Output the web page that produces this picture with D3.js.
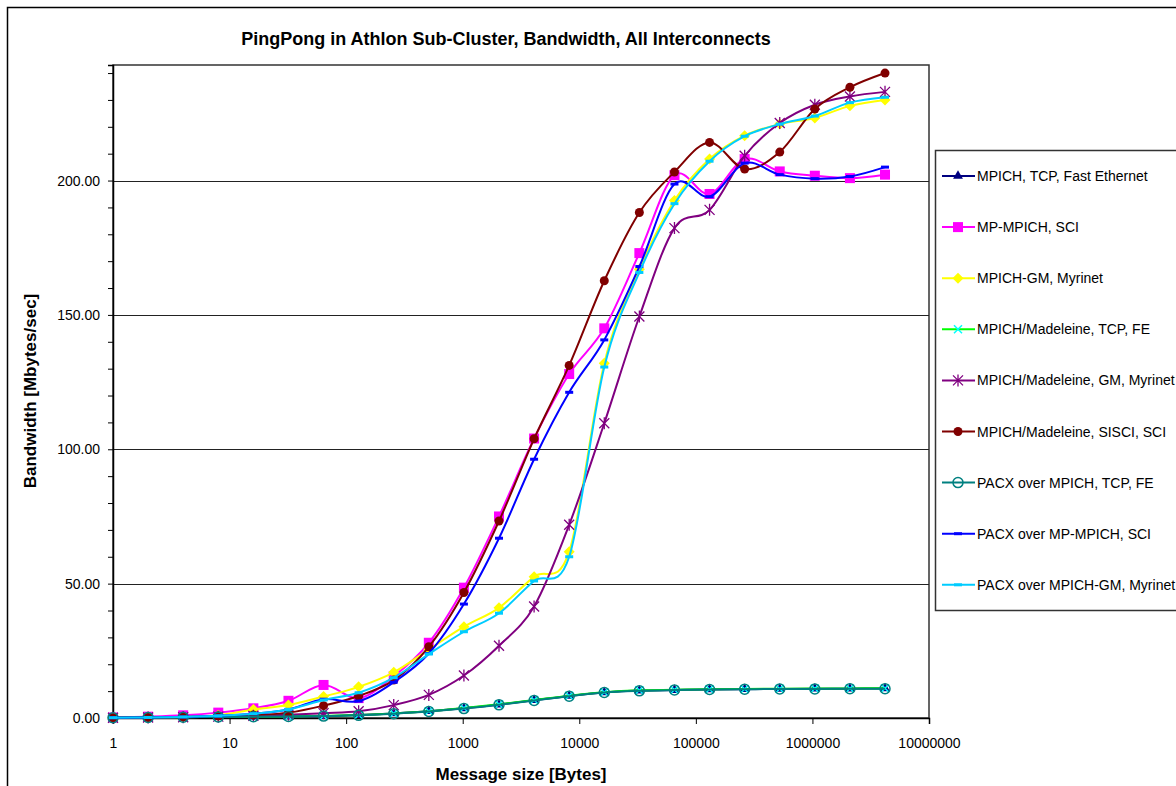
<!DOCTYPE html>
<html>
<head>
<meta charset="utf-8">
<script src="https://cdn.jsdelivr.net/npm/d3@7"></script>
<style>
  body { margin: 0; background: #fff; }
  svg { display: block; font-family: "Liberation Sans", Arial, sans-serif; }
</style>
</head>
<body>
<svg width="1176" height="786"></svg>
<script>
// message sizes, 2^0 .. 2^22 bytes
var sizes = [1, 2, 4, 8, 16, 32, 64, 128, 256, 512, 1024, 2048, 4096, 8192, 16384,
             32768, 65536, 131072, 262144, 524288, 1048576, 2097152, 4194304];

// bandwidth in Mbytes/sec, one array per interconnect
var mpichTcpFe = [0.1, 0.2, 0.3, 0.4, 0.5, 0.6, 0.7, 1.1, 1.7, 2.5, 3.6, 5.0, 6.6, 8.2, 9.5, 10.2, 10.4, 10.6, 10.7, 10.8, 10.9, 10.9, 11.0];
var mpMpichSci = [0.2, 0.5, 1.0, 2.0, 3.6, 6.4, 12.3, 7.4, 15.5, 28.0, 48.5, 75.0, 104.0, 128.0, 145.0, 173.0, 202.0, 195.0, 208.0, 203.4, 201.8, 200.9, 202.2];
var mpichGm = [0.1, 0.2, 0.4, 1.0, 3.2, 4.8, 8.0, 11.6, 17.0, 25.5, 34.0, 41.0, 52.6, 61.9, 132.0, 167.0, 192.6, 208.0, 216.7, 221.0, 223.3, 227.8, 230.0];
var madTcpFe = [0.1, 0.2, 0.3, 0.4, 0.5, 0.6, 0.8, 1.1, 1.7, 2.5, 3.7, 5.1, 6.7, 8.3, 9.6, 10.3, 10.5, 10.7, 10.8, 10.9, 11.0, 11.0, 11.1];
var madGm = [0.1, 0.2, 0.3, 0.5, 0.8, 1.2, 1.8, 2.5, 4.8, 8.6, 15.8, 26.9, 41.5, 71.9, 109.7, 149.4, 182.3, 189.1, 209.2, 221.4, 228.2, 231.3, 233.0];
var madSisci = [0.1, 0.2, 0.4, 0.7, 1.1, 2.0, 4.6, 8.2, 14.1, 26.5, 46.7, 73.3, 103.9, 131.2, 162.7, 188.1, 203.2, 214.2, 204.3, 210.6, 226.6, 234.7, 240.0];
var pacxTcpFe = [0.1, 0.2, 0.3, 0.4, 0.5, 0.6, 0.7, 1.0, 1.6, 2.4, 3.5, 4.9, 6.5, 8.1, 9.5, 10.1, 10.4, 10.6, 10.7, 10.8, 10.8, 10.9, 10.9];
var pacxMpSci = [0.1, 0.2, 0.4, 0.8, 1.6, 3.2, 7.0, 6.3, 13.3, 24.0, 42.4, 66.9, 96.3, 121.2, 140.7, 168.0, 198.7, 194.0, 206.5, 202.2, 200.7, 201.5, 205.0];
var pacxGm = [0.1, 0.2, 0.4, 0.8, 1.6, 3.2, 6.7, 9.4, 15.0, 23.8, 32.1, 39.0, 51.0, 60.0, 130.6, 165.8, 191.4, 207.2, 216.5, 221.0, 224.0, 229.0, 231.0];

var seriesNames = ["MPICH, TCP, Fast Ethernet", "MP-MPICH, SCI", "MPICH-GM, Myrinet",
                   "MPICH/Madeleine, TCP, FE", "MPICH/Madeleine, GM, Myrinet",
                   "MPICH/Madeleine, SISCI, SCI", "PACX over MPICH, TCP, FE",
                   "PACX over MP-MPICH, SCI", "PACX over MPICH-GM, Myrinet"];
var seriesValues = [mpichTcpFe, mpMpichSci, mpichGm, madTcpFe, madGm, madSisci, pacxTcpFe, pacxMpSci, pacxGm];

var xTicks = [1, 10, 100, 1000, 10000, 100000, 1000000, 10000000];
var yTicks = [0, 50, 100, 150, 200];

// styles (line colour, marker kind, marker colours)
var styles = [
    {line: "#000080", marker: "triangle", fill: "#000080", stroke: "#000080"},
    {line: "#ff00ff", marker: "square", fill: "#ff00ff", stroke: "#ff00ff"},
    {line: "#ffff00", marker: "diamond", fill: "#ffff00", stroke: "#ffff00"},
    {line: "#00ff00", marker: "x", fill: "none", stroke: "#00ffff"},
    {line: "#800080", marker: "star", fill: "none", stroke: "#800080"},
    {line: "#800000", marker: "circle", fill: "#800000", stroke: "#800000"},
    {line: "#008080", marker: "ocircle", fill: "none", stroke: "#008080"},
    {line: "#0000ff", marker: "dash", fill: "#0000ff", stroke: "none"},
    {line: "#00ccff", marker: "dash", fill: "#00ccff", stroke: "none"}
];

var svg = d3.select("svg");

var plot = {left: 113, top: 65, right: 929, bottom: 718};

var x = d3.scaleLog().domain([1, 1e7]).range([plot.left, plot.right]);
var y = d3.scaleLinear().domain([0, 243]).range([plot.bottom, plot.top]);

// outer chart frame (runs off the picture at right and bottom)
svg.append("rect")
    .attr("x", 7.5).attr("y", 7.5).attr("width", 1200).attr("height", 800)
    .attr("fill", "#fff").attr("stroke", "#000").attr("stroke-width", 1.5);

// title
svg.append("text")
    .attr("x", 506).attr("y", 45)
    .attr("text-anchor", "middle")
    .attr("font-size", 18).attr("font-weight", "bold")
    .text("PingPong in Athlon Sub-Cluster, Bandwidth, All Interconnects");

// plot frame
svg.append("rect")
    .attr("x", plot.left).attr("y", plot.top)
    .attr("width", plot.right - plot.left).attr("height", plot.bottom - plot.top)
    .attr("fill", "#fff").attr("stroke", "#333").attr("stroke-width", 1.5);

// gridlines
svg.append("g")
    .selectAll("line")
    .data(yTicks.filter(function(d) { return d > 0; }))
    .enter().append("line")
    .attr("x1", plot.left).attr("x2", plot.right)
    .attr("y1", function(d) { return Math.round(y(d)) + 0.5; })
    .attr("y2", function(d) { return Math.round(y(d)) + 0.5; })
    .attr("stroke", "#222").attr("stroke-width", 1);

// y axis: major labels every 50, minor ticks every 10
var yAxis = d3.axisLeft(y)
    .tickValues(d3.range(0, 241, 10))
    .tickSize(5)
    .tickFormat(function(d) { return d % 50 === 0 ? d3.format(".2f")(d) : ""; });
svg.append("g")
    .attr("transform", "translate(" + plot.left + ",0)")
    .call(yAxis)
    .call(function(g) {
        g.select(".domain").attr("stroke", "#000").attr("stroke-width", 1.5);
        g.selectAll(".tick line").attr("stroke", "#000");
        g.selectAll(".tick text").attr("font-size", 14).attr("x", -13)
            .attr("font-family", "Liberation Sans, Arial, sans-serif").attr("fill", "#000");
    });

// x axis
var xAxis = d3.axisBottom(x)
    .tickValues(xTicks)
    .tickSize(6)
    .tickFormat(d3.format("d"));
svg.append("g")
    .attr("transform", "translate(0," + plot.bottom + ")")
    .call(xAxis)
    .call(function(g) {
        g.select(".domain").attr("stroke", "#000").attr("stroke-width", 1.5);
        g.selectAll(".tick line").attr("stroke", "#000");
        g.selectAll(".tick text").attr("font-size", 14).attr("y", 20)
            .attr("font-family", "Liberation Sans, Arial, sans-serif").attr("fill", "#000");
    });

// axis titles
svg.append("text")
    .attr("x", 521).attr("y", 780)
    .attr("text-anchor", "middle")
    .attr("font-size", 17).attr("font-weight", "bold")
    .text("Message size [Bytes]");
svg.append("text")
    .attr("transform", "translate(36,391) rotate(-90)")
    .attr("text-anchor", "middle")
    .attr("font-size", 17).attr("font-weight", "bold")
    .text("Bandwidth [Mbytes/sec]");

// marker drawing
function drawMarker(g, st) {
    if (st.marker == "triangle") {
        g.append("path").attr("d", d3.symbol(d3.symbolTriangle, 42)())
            .attr("fill", st.fill);
    } else if (st.marker == "square") {
        g.append("rect").attr("x", -5).attr("y", -5).attr("width", 10).attr("height", 10)
            .attr("fill", st.fill);
    } else if (st.marker == "diamond") {
        g.append("path").attr("d", "M0,-5.5L5.5,0L0,5.5L-5.5,0Z").attr("fill", st.fill);
    } else if (st.marker == "x") {
        g.append("path").attr("d", "M-4,-4L4,4M-4,4L4,-4")
            .attr("stroke", st.stroke).attr("stroke-width", 1.5).attr("fill", "none");
    } else if (st.marker == "star") {
        g.append("path").attr("d", "M-5,-5L5,5M-5,5L5,-5M0,-6L0,6")
            .attr("stroke", st.stroke).attr("stroke-width", 1.3).attr("fill", "none");
    } else if (st.marker == "circle") {
        g.append("circle").attr("r", 4.5).attr("fill", st.fill);
    } else if (st.marker == "ocircle") {
        g.append("circle").attr("r", 5).attr("fill", "none")
            .attr("stroke", st.stroke).attr("stroke-width", 1.5);
    } else if (st.marker == "dash") {
        g.append("rect").attr("x", -4).attr("y", -1.5).attr("width", 8).attr("height", 3)
            .attr("fill", st.fill);
    }
}

var line = d3.line()
    .x(function(d) { return x(d.size); })
    .y(function(d) { return y(d.value); })
    .curve(d3.curveCatmullRom.alpha(0));

var seriesLayer = svg.append("g");

seriesValues.forEach(function(vals, i) {
    var st = styles[i];
    var pts = vals.map(function(v, j) { return {size: sizes[j], value: v}; });
    var g = seriesLayer.append("g").attr("class", "series");
    g.append("path")
        .datum(pts)
        .attr("d", line)
        .attr("fill", "none")
        .attr("stroke", st.line)
        .attr("stroke-width", 2);
    g.selectAll("g.mk")
        .data(pts)
        .enter().append("g")
        .attr("class", "mk")
        .attr("transform", function(d) { return "translate(" + x(d.size) + "," + y(d.value) + ")"; })
        .each(function() { drawMarker(d3.select(this), st); });
});

// legend
var legend = svg.append("g");
legend.append("rect")
    .attr("x", 935.5).attr("y", 150.5).attr("width", 300).attr("height", 460)
    .attr("fill", "#fff").attr("stroke", "#333").attr("stroke-width", 1.5);

var legendItems = legend.selectAll("g.item")
    .data(seriesNames)
    .enter().append("g")
    .attr("class", "item")
    .attr("transform", function(d, i) { return "translate(942," + (176 + i * 51.1) + ")"; });

legendItems.append("line")
    .attr("x1", 0).attr("x2", 33).attr("y1", 0).attr("y2", 0)
    .attr("stroke", function(d, i) { return styles[i].line; })
    .attr("stroke-width", 2);
legendItems.append("g")
    .attr("transform", "translate(16,0)")
    .each(function(d, i) { drawMarker(d3.select(this), styles[i]); });
legendItems.append("text")
    .attr("x", 35).attr("y", 5)
    .attr("font-size", 14)
    .text(function(d) { return d; });
</script>
</body>
</html>
